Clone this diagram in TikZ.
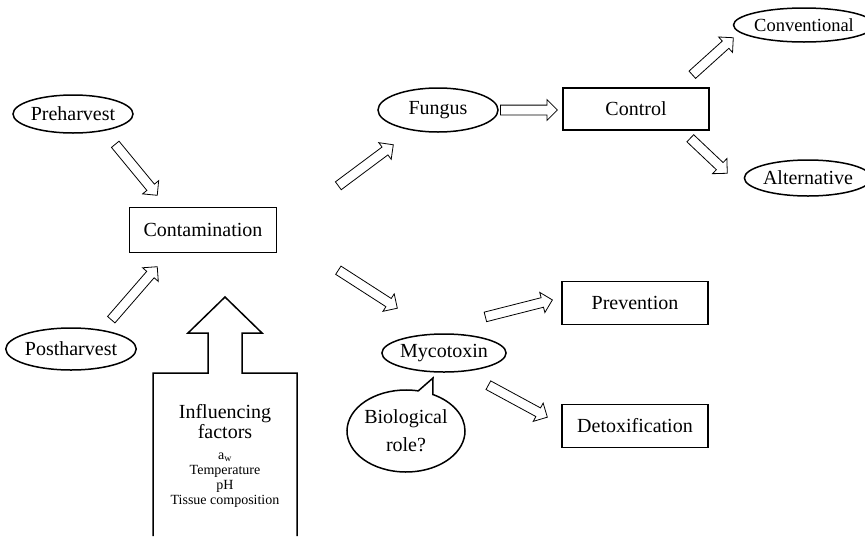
\documentclass[tikz,border=0pt]{standalone}
\usepackage{fontspec}
\setmainfont{Liberation Serif}
\usetikzlibrary{calc,positioning,shapes.geometric,shapes.arrows,shapes.callouts}

\tikzset{
	box/.style={draw, line width=1.5pt, inner sep=0pt, minimum width=146, minimum height=43},
	oval/.style={draw, ellipse, line width=1.5pt, inner sep=0pt, minimum width=120, minimum height=40},
	hollow/.style={draw, single arrow, line width=0.8pt, inner xsep=0pt, inner ysep=4.5pt,
		single arrow head extend=5.5pt, single arrow tip angle=90}
}
% hollow block arrow from tail #1 to tip #2
\newcommand{\hollowarrow}[2]{%
	\path let \p1=($(#2)-(#1)$), \n1={atan2(\y1,\x1)}, \n2={veclen(\x1,\y1)} in
	node[hollow, minimum height=\n2, rotate=\n1, anchor=tail] at (#1) {};}

\begin{document}
\begin{tikzpicture}[x=1pt,y=-1pt,font=\fontsize{20}{24}\selectfont]
	\useasboundingbox (0,0) rectangle (865,536);
	\node[oval, minimum height=38] (pre) at (73,114) {Preharvest};
	\node[oval, minimum width=118, minimum height=42] (post) at (71,349) {Postharvest};
	\node[box, minimum width=147, minimum height=45] (cont) at (203,230) {Contamination};
	\node[oval, minimum height=44] (fungus) at (438,110) {Fungus};
	\node[box, minimum height=42] (control) at (636,109) {Control};
	\node[oval, minimum width=122, minimum height=34, font=\fontsize{18.5}{20}\selectfont] (conv) at (804,25) {Conventional};
	\node[oval, minimum width=110, minimum height=36] (alt) at (808,178) {Alternative};
	\node[oval, minimum width=108, minimum height=38] (myco) at (444,353) {Mycotoxin};
	\node[box] (prev) at (635,303) {Prevention};
	\node[box] (detox) at (635,426) {Detoxification};
	
	% speech bubble
	\coordinate (bubtip) at (433,378);
	\node[ellipse callout, draw, line width=1.5pt, inner sep=0pt, minimum width=118, minimum height=82,
		align=center, callout absolute pointer=(bubtip)] (role) at (406,431)
		{Biological\\[4pt]role?};
	
	% influencing factors
	\draw[line width=1.5pt] (153,536) -- (153,373) -- (208,373) -- (208,333) -- (188,333) -- (225,297)
		-- (262,333) -- (242,333) -- (242,373) -- (297,373) -- (297,536);
	\node[align=center, inner sep=0pt, font=\fontsize{20}{20}\selectfont] (inf) at (225,422) {Influencing\\factors};
	\node[align=center, inner sep=0pt, font=\fontsize{14}{15}\selectfont, below=13pt of inf] (list)
		{a\textsubscript{w}\\Temperature\\pH\\Tissue composition};
	
	% arrows
	\coordinate (preT) at (115,144);   \coordinate (preH) at (157,195);
	\coordinate (postT) at (111,320);  \coordinate (postH) at (157,267);
	\coordinate (funT) at (338,186);   \coordinate (funH) at (393,145);
	\coordinate (mycT) at (338,270);   \coordinate (mycH) at (397,308);
	\coordinate (ctlT) at (500,110);   \coordinate (ctlH) at (557,110);
	\coordinate (convT) at (692,75);   \coordinate (convH) at (733,38);
	\coordinate (altT) at (690,138);   \coordinate (altH) at (727,173);
	\coordinate (prevT) at (485,317);  \coordinate (prevH) at (552,300);
	\coordinate (detT) at (488,385);   \coordinate (detH) at (547,417);
	\hollowarrow{preT}{preH}
	\hollowarrow{postT}{postH}
	\hollowarrow{funT}{funH}
	\hollowarrow{mycT}{mycH}
	\hollowarrow{ctlT}{ctlH}
	\hollowarrow{convT}{convH}
	\hollowarrow{altT}{altH}
	\hollowarrow{prevT}{prevH}
	\hollowarrow{detT}{detH}
\end{tikzpicture}
\end{document}
